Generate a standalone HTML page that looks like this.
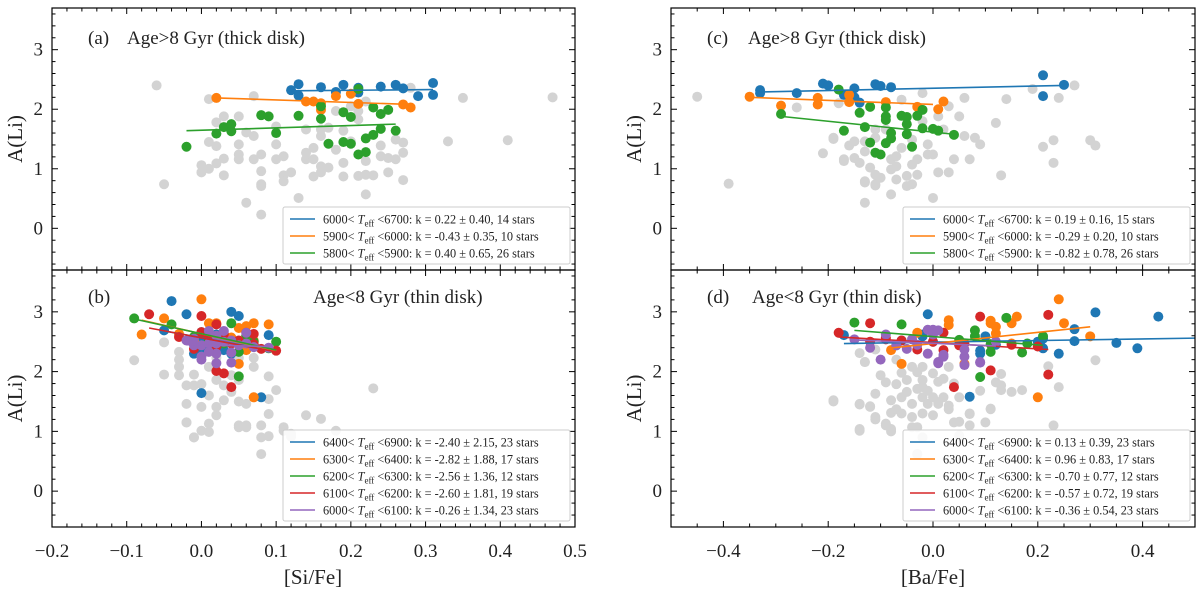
<!DOCTYPE html>
<html><head><meta charset="utf-8">
<style>
html,body{margin:0;padding:0;background:#fff;}
svg{display:block;font-family:"Liberation Serif","DejaVu Serif",serif;}
</style></head>
<body>
<svg id="fig" width="1200" height="593" viewBox="0 0 1200 593"></svg>
<script>
// ===== Panel (a): [Si/Fe], thick disk =====
const aGrayX=[-0.06,-0.05,0.01,0.01,0.02,0.02,0.02,0.03,0.03,0.03,0.0,0.0,0.01,0.05,0.05,0.05,0.05,0.06,0.06,0.07,0.07,0.07,0.08,0.08,0.08,0.08,0.10,0.10,0.10,0.11,0.11,0.11,0.12,0.13,0.14,0.14,0.14,0.15,0.15,0.15,0.16,0.16,0.16,0.16,0.17,0.17,0.18,0.18,0.19,0.19,0.19,0.20,0.20,0.21,0.21,0.21,0.22,0.22,0.22,0.22,0.23,0.24,0.24,0.25,0.25,0.26,0.26,0.27,0.27,0.27,0.28,0.33,0.35,0.41,0.47,0.08];
const aGrayY=[2.40,0.74,2.17,1.45,1.78,1.38,1.09,1.88,1.17,0.89,1.06,0.94,1.00,1.88,1.41,1.24,1.16,1.61,0.43,2.22,1.55,1.16,1.24,0.96,0.74,0.71,1.71,1.41,1.16,1.21,0.89,0.79,0.94,0.51,1.66,1.27,1.16,1.35,1.16,0.87,1.66,1.55,1.04,0.94,1.69,1.02,1.97,1.32,1.64,1.10,0.87,2.05,1.46,1.97,1.83,0.88,2.13,1.13,0.90,0.57,0.89,1.39,1.21,1.18,0.94,1.49,1.16,1.44,1.27,0.81,2.36,1.46,2.19,1.48,2.20,0.23];
const aBlueX=[0.12,0.13,0.13,0.16,0.18,0.19,0.21,0.21,0.24,0.26,0.27,0.29,0.31,0.31];
const aBlueY=[2.32,2.42,2.23,2.37,2.29,2.41,2.28,2.36,2.38,2.41,2.35,2.22,2.44,2.24];
const aOrangeX=[0.02,0.14,0.15,0.16,0.18,0.20,0.21,0.27,0.28,0.16];
const aOrangeY=[2.19,2.13,2.13,1.99,2.22,2.26,2.09,2.08,2.03,2.10];
const aGreenX=[-0.02,0.02,0.03,0.04,0.04,0.08,0.09,0.10,0.13,0.16,0.16,0.17,0.19,0.19,0.20,0.20,0.21,0.21,0.22,0.22,0.23,0.23,0.24,0.24,0.25,0.26];
const aGreenY=[1.37,1.59,1.70,1.75,1.63,1.90,1.88,1.60,1.89,2.05,1.84,1.42,1.95,1.45,1.87,1.42,2.34,1.24,1.51,1.28,2.03,1.57,1.92,1.67,1.99,1.64];
const aFitX0=[0.12,0.02,-0.02], aFitX1=[0.31,0.28,0.26];
const aFitY0=[2.31,2.19,1.64], aFitY1=[2.33,2.08,1.75];
const aLegend=["6000< |T|eff| <6700: k = 0.22 ± 0.40, 14 stars","5900< |T|eff| <6000: k = -0.43 ± 0.35, 10 stars","5800< |T|eff| <5900: k = 0.40 ± 0.65, 26 stars"];

// ===== Panel (b): [Si/Fe], thin disk =====
const bGrayX=[-0.09,-0.05,-0.05,-0.03,-0.03,-0.03,-0.02,-0.02,-0.02,-0.01,-0.01,-0.01,0.0,0.0,0.0,0.01,0.01,0.01,0.02,0.02,0.02,0.03,0.03,0.04,0.04,0.05,0.05,0.05,0.06,0.06,0.07,0.07,0.08,0.08,0.08,0.09,0.09,0.09,0.09,0.10,0.11,0.12,0.05,0.02,0.07,-0.03,0.23,0.14,0.16,0.18,0.11,0.12,0.06,0.05,0.01,-0.01,-0.02];
const bGrayY=[2.19,2.49,1.95,2.33,2.08,1.94,1.77,1.46,1.15,0.90,1.77,1.95,1.01,1.41,1.79,1.13,1.60,2.08,1.27,1.41,1.86,1.52,1.77,1.94,1.66,1.10,1.50,1.86,1.10,1.46,1.57,2.08,1.10,0.90,0.62,1.54,1.29,1.92,0.92,1.69,1.07,0.96,2.23,2.23,2.23,2.20,1.72,1.27,1.21,1.01,1.01,0.91,1.07,1.07,0.99,0.90,1.15];
const bBlueX=[-0.04,-0.05,-0.02,-0.01,0.0,0.0,0.04,0.05,0.08,0.09,0.0,0.01,0.02,-0.01,0.03,0.05,0.04,0.07,0.06,0.01,0.03,0.0,0.02];
const bBlueY=[3.18,2.69,2.96,2.30,1.64,2.36,3.00,2.93,1.57,2.61,2.66,2.44,2.62,2.47,2.55,2.44,2.30,2.41,2.58,2.58,2.36,2.52,2.44];
const bOrangeX=[0.0,-0.08,-0.05,0.01,0.05,0.05,0.06,0.07,0.09,0.07,0.06,0.03,0.02,0.04,-0.01,-0.03,0.07];
const bOrangeY=[3.21,2.62,2.89,2.81,2.73,2.13,2.76,2.81,2.79,1.57,2.36,2.63,2.81,2.57,2.52,2.63,2.52];
const bGreenX=[-0.09,-0.04,0.04,0.05,0.05,0.10,0.06,0.01,0.03,-0.01,0.07,0.09];
const bGreenY=[2.89,2.79,2.81,2.33,1.92,2.50,2.61,2.52,2.47,2.58,2.50,2.39];
const bRedX=[-0.07,0.0,0.02,0.0,-0.01,0.02,0.03,0.04,0.07,0.07,0.10,0.05,0.06,0.01,0.04,0.03,-0.03,0.08,0.02];
const bRedY=[2.96,2.93,2.79,2.66,2.38,2.01,1.97,1.74,2.63,2.46,2.35,2.52,2.65,2.58,2.47,2.63,2.58,2.38,2.42];
const bPurpleX=[0.02,0.0,0.0,0.02,0.04,0.04,0.06,0.03,0.01,-0.01,0.0,0.01,0.02,0.03,0.05,0.06,0.07,0.09,-0.02,0.04,0.01,0.02,-0.01];
const bPurpleY=[2.30,2.25,2.20,2.14,2.15,2.32,2.65,2.68,2.68,2.55,2.44,2.47,2.47,2.50,2.44,2.47,2.41,2.40,2.52,2.52,2.33,2.60,2.44];
const bFitX0=[-0.05,-0.08,-0.09,-0.07,-0.02], bFitX1=[0.10,0.10,0.10,0.10,0.09];
const bFitY0=[2.68,2.86,2.88,2.73,2.45], bFitY1=[2.34,2.35,2.36,2.33,2.42];
const bLegend=["6400< |T|eff| <6900: k = -2.40 ± 2.15, 23 stars","6300< |T|eff| <6400: k = -2.82 ± 1.88, 17 stars","6200< |T|eff| <6300: k = -2.56 ± 1.36, 12 stars","6100< |T|eff| <6200: k = -2.60 ± 1.81, 19 stars","6000< |T|eff| <6100: k = -0.26 ± 1.34, 23 stars"];

// ===== Panel (c): [Ba/Fe], thick disk =====
const cGrayX=[-0.26,-0.21,-0.19,-0.17,-0.16,-0.15,-0.15,-0.14,-0.13,-0.13,-0.13,-0.13,-0.12,-0.11,-0.11,-0.11,-0.11,-0.10,-0.09,-0.08,-0.08,-0.08,-0.07,-0.07,-0.07,-0.06,-0.06,-0.05,-0.05,-0.04,-0.04,-0.04,-0.03,-0.03,-0.02,-0.02,-0.01,-0.01,0.0,0.0,0.01,0.01,0.02,0.03,0.03,0.04,0.05,0.06,0.06,0.07,0.08,0.09,0.12,0.13,0.14,0.19,0.21,0.23,0.23,0.24,0.27,0.30,0.31,-0.45,-0.39,-0.19,-0.17,-0.18,-0.13,-0.11];
const cGrayY=[2.03,1.26,1.50,1.13,1.39,1.46,1.18,1.10,1.46,1.29,0.79,0.43,1.02,1.66,1.52,0.90,0.74,0.85,1.66,1.16,0.99,0.57,1.21,1.04,0.82,2.16,1.35,0.88,0.71,1.49,1.07,0.74,1.16,0.90,2.27,1.80,1.41,1.24,1.24,0.51,1.88,0.94,1.66,2.05,0.94,1.16,1.88,2.19,1.55,1.16,1.52,1.41,1.77,0.89,2.17,2.34,1.37,1.48,1.10,2.19,2.40,1.48,1.39,2.21,0.75,1.52,1.16,2.10,0.77,0.72];
const cBlueX=[-0.33,-0.33,-0.26,-0.21,-0.20,-0.17,-0.15,-0.15,-0.14,-0.11,-0.10,-0.08,0.21,0.21,0.25];
const cBlueY=[2.32,2.27,2.27,2.43,2.40,2.24,2.35,2.20,2.11,2.42,2.39,2.37,2.57,2.22,2.41];
const cOrangeX=[-0.35,-0.29,-0.22,-0.22,-0.16,-0.16,-0.09,-0.03,0.01,0.02];
const cOrangeY=[2.21,2.06,2.19,2.08,2.24,2.12,2.12,2.04,2.00,2.13];
const cGreenX=[-0.29,-0.18,-0.17,-0.14,-0.12,-0.12,-0.11,-0.10,-0.09,-0.09,-0.09,-0.09,-0.08,-0.08,-0.06,-0.05,-0.05,-0.05,-0.04,-0.03,-0.02,-0.02,0.0,0.01,0.04,-0.13];
const cGreenY=[1.92,2.33,1.64,1.94,2.04,1.44,1.27,1.24,2.03,1.88,1.82,1.43,1.60,1.51,1.89,1.87,1.75,1.58,1.37,1.89,1.99,1.68,1.67,1.64,1.57,1.70];
const cFitX0=[-0.33,-0.35,-0.29], cFitX1=[0.25,0.0,0.04];
const cFitY0=[2.29,2.20,1.88], cFitY1=[2.40,2.08,1.58];
const cLegend=["6000< |T|eff| <6700: k = 0.19 ± 0.16, 15 stars","5900< |T|eff| <6000: k = -0.29 ± 0.20, 10 stars","5800< |T|eff| <5900: k = -0.82 ± 0.78, 26 stars"];

// ===== Panel (d): [Ba/Fe], thin disk =====
const dGrayX=[-0.19,-0.14,-0.14,-0.12,-0.13,-0.11,-0.11,-0.10,-0.09,-0.09,-0.08,-0.08,-0.08,-0.07,-0.07,-0.06,-0.06,-0.06,-0.05,-0.05,-0.04,-0.04,-0.03,-0.03,-0.03,-0.02,-0.02,-0.02,-0.02,-0.02,-0.01,-0.01,0.0,0.0,0.0,0.01,0.01,0.02,0.02,0.03,0.03,0.04,0.04,0.05,0.05,0.07,0.09,0.11,0.12,0.13,0.13,-0.03,-0.14,-0.11,-0.07,-0.04,0.31,0.24,0.23,0.22,0.11,0.07,0.07,0.05,0.10,-0.04,-0.02,-0.03,0.15,0.17,0.13,0.03,0.01,-0.19,-0.14,-0.14,-0.13,-0.11,-0.09,-0.08,-0.12];
const dGrayY=[1.52,1.04,1.46,1.41,2.16,1.63,1.24,1.94,1.82,1.13,1.52,1.31,1.04,1.79,1.37,1.98,1.57,1.30,1.66,1.86,1.46,1.24,1.99,1.71,1.07,1.86,1.57,1.30,2.08,1.74,1.68,1.46,1.97,1.57,1.27,1.83,1.49,1.88,1.57,2.08,1.37,1.80,1.15,1.57,0.93,1.29,1.68,1.37,1.82,1.96,1.77,0.62,2.31,2.37,2.20,2.08,2.19,1.74,1.10,2.09,1.38,1.30,1.10,1.16,1.15,1.07,0.90,0.62,1.66,1.69,1.69,1.43,1.46,1.50,1.01,1.45,2.16,1.20,1.10,1.00,1.42];
const dBlueX=[-0.17,-0.07,-0.06,-0.02,-0.02,-0.01,0.07,0.09,0.09,0.10,0.20,0.21,0.21,0.24,0.27,0.27,0.31,0.35,0.39,0.43,0.0,0.05,0.12];
const dBlueY=[2.61,2.44,2.52,2.62,2.59,2.96,1.58,2.30,2.35,2.59,2.50,2.55,2.39,2.30,2.51,2.71,2.99,2.48,2.39,2.92,2.50,2.45,2.45];
const dOrangeX=[-0.08,-0.06,-0.03,0.03,0.03,0.06,0.11,0.11,0.12,0.12,0.15,0.15,0.16,0.20,0.24,0.25,0.30];
const dOrangeY=[2.36,2.13,2.65,2.78,2.86,2.13,2.81,2.85,2.75,2.64,2.81,2.47,2.92,1.57,3.21,2.81,2.59];
const dGreenX=[-0.15,-0.06,0.05,0.08,0.08,0.09,0.11,0.11,0.14,0.17,0.18,0.21];
const dGreenY=[2.82,2.79,2.53,2.69,2.59,1.91,2.46,2.33,2.90,2.32,2.47,2.59];
const dRedX=[-0.18,-0.12,-0.09,-0.09,-0.06,-0.03,0.02,0.02,0.04,0.05,0.06,0.09,0.11,0.20,0.22,0.22,0.0,-0.12,0.15];
const dRedY=[2.65,2.81,2.57,2.54,2.52,2.37,2.65,2.36,1.74,2.44,2.47,2.92,2.02,2.42,2.95,1.95,2.50,2.50,2.45];
const dPurpleX=[-0.15,-0.12,-0.10,-0.09,-0.07,-0.05,-0.04,-0.03,-0.01,-0.01,0.0,0.0,0.01,0.01,0.01,0.02,0.02,0.06,0.06,0.06,0.09,0.09,0.12];
const dPurpleY=[2.54,2.40,2.20,2.62,2.44,2.38,2.54,2.45,2.70,2.30,2.70,2.62,2.69,2.14,2.16,2.28,2.25,2.25,2.11,2.37,2.16,2.15,2.50];
const dFitX0=[-0.17,-0.085,-0.15,-0.18,-0.15], dFitX1=[0.5,0.30,0.21,0.22,0.12];
const dFitY0=[2.47,2.39,2.69,2.58,2.53], dFitY1=[2.56,2.75,2.44,2.37,2.43];
const dLegend=["6400< |T|eff| <6900: k = 0.13 ± 0.39, 23 stars","6300< |T|eff| <6400: k = 0.96 ± 0.83, 17 stars","6200< |T|eff| <6300: k = -0.70 ± 0.77, 12 stars","6100< |T|eff| <6200: k = -0.57 ± 0.72, 19 stars","6000< |T|eff| <6100: k = -0.36 ± 0.54, 23 stars"];

const xTicksLeft=[-0.2,-0.1,0.0,0.1,0.2,0.3,0.4,0.5];
const xTickLabelsLeft=["\u22120.2","\u22120.1","0.0","0.1","0.2","0.3","0.4","0.5"];
const xTicksRight=[-0.4,-0.2,0.0,0.2,0.4];
const xTickLabelsRight=["\u22120.4","\u22120.2","0.0","0.2","0.4"];
const yTicks=[0,1,2,3];
const yTickLabels=["0","1","2","3"];

const COLORS=["#1f77b4","#ff7f0e","#2ca02c","#d62728","#9467bd"];
const NAMES=["blue","orange","green","red","purple"];
const R=5;
const NS="http://www.w3.org/2000/svg";
const svg=document.getElementById('fig');
function mk(tag,attrs,parent){const e=document.createElementNS(NS,tag);for(const k in attrs)e.setAttribute(k,attrs[k]);(parent||svg).appendChild(e);return e;}

function panel(cfg){
  const {id,x0,x1,y0,y1,xmin,xmax,ymin,ymax}=cfg;
  const sx=v=>x0+(v-xmin)/(xmax-xmin)*(x1-x0);
  const sy=v=>y1-(v-ymin)/(ymax-ymin)*(y1-y0);
  const g=mk('g',{});
  
  
  const gg=mk('g',{},g);
  
  
  cfg.grayX.forEach((v,i)=>{const c=mk('circle',{cx:sx(v),cy:sy(cfg.grayY[i]),r:R,fill:'#d3d3d3'},gg);
    
    });
  cfg.series.forEach((s,k)=>{
    const sg=mk('g',{},g);
    
    
    s[0].forEach((v,i)=>{const c=mk('circle',{cx:sx(v),cy:sy(s[1][i]),r:R,fill:COLORS[k]},sg);
      
      });
  });
  cfg.series.forEach((s,k)=>{
    const l=mk('line',{x1:sx(cfg.fx0[k]),y1:sy(cfg.fy0[k]),x2:sx(cfg.fx1[k]),y2:sy(cfg.fy1[k]),stroke:COLORS[k],'stroke-width':1.6},g);
    
    
  });
  const fr=mk('rect',{x:x0,y:y0,width:x1-x0,height:y1-y0,fill:'none',stroke:'#000','stroke-width':1.2},g);
  
  
  const tg=mk('g',{stroke:'#000','stroke-width':1},g);
  
  
  const nx=Math.round((xmax-xmin)/cfg.xminor);
  for(let i=0;i<=nx;i++){const v=xmin+i*cfg.xminor;const X=sx(v);
    const maj=Math.abs(v/cfg.xmajor-Math.round(v/cfg.xmajor))<1e-6;const L=maj?6:3.5;
    mk('line',{x1:X,y1:y1,x2:X,y2:y1-L},tg);mk('line',{x1:X,y1:y0,x2:X,y2:y0+L},tg);}
  for(let v=Math.ceil(ymin/0.2-1e-6)*0.2;v<=ymax+1e-6;v+=0.2){const Y=sy(v);
    const maj=Math.abs(v-Math.round(v))<1e-6;const L=maj?6:3.5;
    mk('line',{x1:x0,y1:Y,x2:x0+L,y2:Y},tg);mk('line',{x1:x1,y1:Y,x2:x1-L,y2:Y},tg);}
  yTicks.forEach((v,i)=>{const t=mk('text',{x:x0-9,y:sy(v)+6,'font-size':19,'text-anchor':'end',fill:'#222'},g);t.textContent=yTickLabels[i];
    
    });
  if(cfg.xt){cfg.xt.forEach((v,i)=>{const t=mk('text',{x:sx(v),y:y1+30,'font-size':19,'text-anchor':'middle',fill:'#222'},g);t.textContent=cfg.xtl[i];
    
    });}
  const yl=mk('text',{x:0,y:0,'font-size':21,'text-anchor':'middle',fill:'#222',transform:`translate(${cfg.ylx},${(y0+y1)/2}) rotate(-90)`},g);
  yl.textContent='A(Li)';
  
  
  const t1=mk('text',{x:x0+36,y:y0+cfg.titleDy,'font-size':19,fill:'#222'},g);t1.textContent=cfg.tag;
  
  
  const t2=mk('text',{x:cfg.titleX,y:y0+cfg.titleDy,'font-size':19,fill:'#222'},g);t2.textContent=cfg.title;
  
  
  const n=cfg.legend.length;const lx=cfg.legX,ly=y1-8-n*17-4;
  const lg=mk('g',{},g);
  
  
  mk('rect',{x:lx,y:ly,width:287,height:n*17+6,fill:'#fff','fill-opacity':0.85,stroke:'#ccc','stroke-width':1,rx:2},lg);
  cfg.legend.forEach((s,k)=>{const yy=ly+12+k*17;
    const e=mk('g',{},lg);
    
    
    mk('line',{x1:lx+7,y1:yy,x2:lx+32,y2:yy,stroke:COLORS[k],'stroke-width':1.6},e);
    const p=s.split('|');
    const t=mk('text',{x:lx+40,y:yy+4.5,'font-size':12.3,fill:'#222'},e);
    const a=mk('tspan',{},t);a.textContent=p[0];
    const b=mk('tspan',{'font-style':'italic'},t);b.textContent=p[1];
    const c=mk('tspan',{'font-size':9,dy:3},t);c.textContent=p[2];
    const d=mk('tspan',{dy:-3},t);d.textContent=p[3];
  });
}
panel({id:'a',x0:52,x1:575,y0:8,y1:270,xmin:-0.2,xmax:0.5,ymin:-0.7,ymax:3.7,xminor:0.02,xmajor:0.1,
  grayX:aGrayX,grayY:aGrayY,series:[[aBlueX,aBlueY],[aOrangeX,aOrangeY],[aGreenX,aGreenY]],
  fx0:aFitX0,fx1:aFitX1,fy0:aFitY0,fy1:aFitY1,legend:aLegend,legX:283,ylx:22,tag:'(a)',title:'Age>8 Gyr (thick disk)',titleX:127,titleDy:36});
panel({id:'b',x0:52,x1:575,y0:270,y1:527,xmin:-0.2,xmax:0.5,ymin:-0.6,ymax:3.7,xminor:0.02,xmajor:0.1,
  grayX:bGrayX,grayY:bGrayY,series:[[bBlueX,bBlueY],[bOrangeX,bOrangeY],[bGreenX,bGreenY],[bRedX,bRedY],[bPurpleX,bPurpleY]],
  fx0:bFitX0,fx1:bFitX1,fy0:bFitY0,fy1:bFitY1,legend:bLegend,legX:283,ylx:22,tag:'(b)',title:'Age<8 Gyr (thin disk)',titleX:313,titleDy:33,
  xt:xTicksLeft,xtl:xTickLabelsLeft});
panel({id:'c',x0:671,x1:1195,y0:8,y1:270,xmin:-0.5,xmax:0.5,ymin:-0.7,ymax:3.7,xminor:0.05,xmajor:0.2,
  grayX:cGrayX,grayY:cGrayY,series:[[cBlueX,cBlueY],[cOrangeX,cOrangeY],[cGreenX,cGreenY]],
  fx0:cFitX0,fx1:cFitX1,fy0:cFitY0,fy1:cFitY1,legend:cLegend,legX:903,ylx:641,tag:'(c)',title:'Age>8 Gyr (thick disk)',titleX:748,titleDy:36});
panel({id:'d',x0:671,x1:1195,y0:270,y1:527,xmin:-0.5,xmax:0.5,ymin:-0.6,ymax:3.7,xminor:0.05,xmajor:0.2,
  grayX:dGrayX,grayY:dGrayY,series:[[dBlueX,dBlueY],[dOrangeX,dOrangeY],[dGreenX,dGreenY],[dRedX,dRedY],[dPurpleX,dPurpleY]],
  fx0:dFitX0,fx1:dFitX1,fy0:dFitY0,fy1:dFitY1,legend:dLegend,legX:903,ylx:641,tag:'(d)',title:'Age<8 Gyr (thin disk)',titleX:752,titleDy:33,
  xt:xTicksRight,xtl:xTickLabelsRight});
const xl1=mk('text',{x:313,y:584,'font-size':21,'text-anchor':'middle',fill:'#222'});xl1.textContent='[Si/Fe]';


const xl2=mk('text',{x:933,y:584,'font-size':21,'text-anchor':'middle',fill:'#222'});xl2.textContent='[Ba/Fe]';


</script>
</body></html>
